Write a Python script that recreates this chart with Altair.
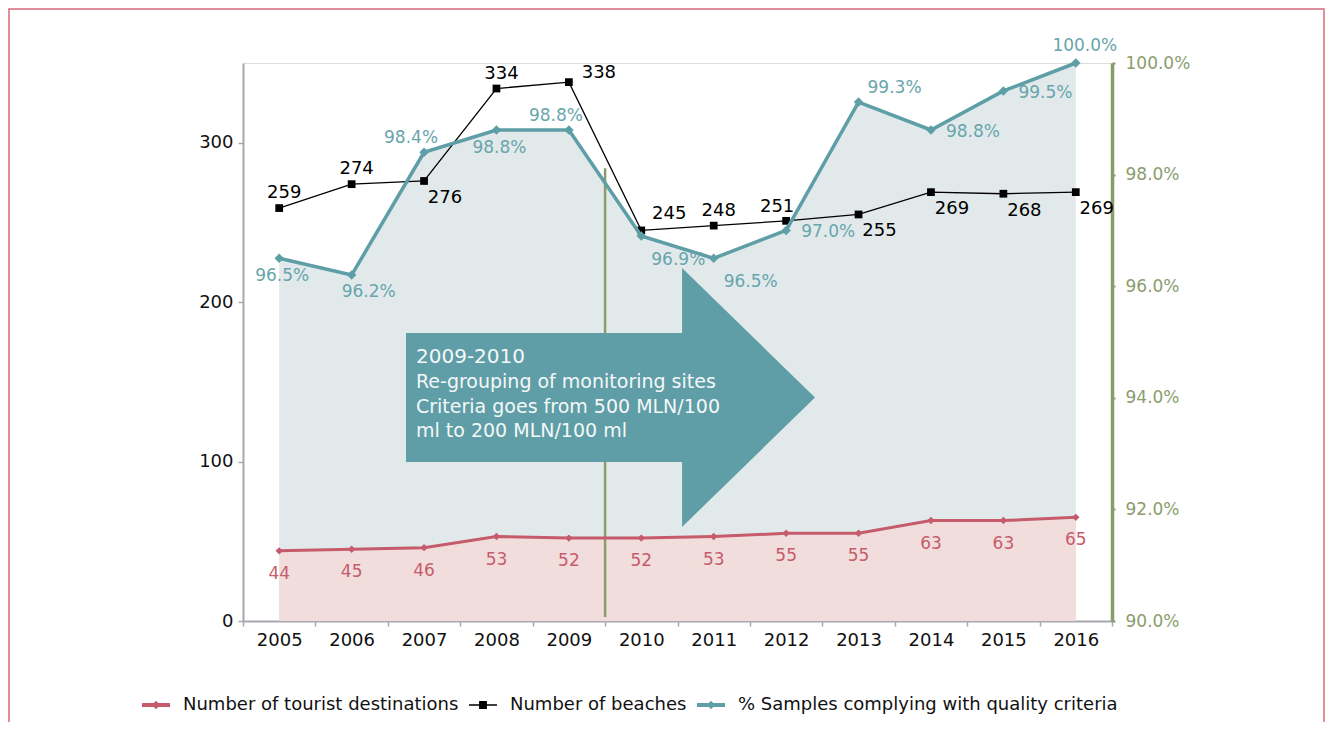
import altair as alt
import pandas as pd

# ---------------- data ----------------
years = ["2005", "2006", "2007", "2008", "2009", "2010",
         "2011", "2012", "2013", "2014", "2015", "2016"]
tourist = [44, 45, 46, 53, 52, 52, 53, 55, 55, 63, 63, 65]
beaches = [259, 274, 276, 334, 338, 245, 248, 251, 255, 269, 268, 269]
samples = [96.5, 96.2, 98.4, 98.8, 98.8, 96.9, 96.5, 97.0, 99.3, 98.8, 99.5, 100.0]

series_names = ["Number of tourist destinations", "Number of beaches",
                "% Samples complying with quality criteria"]
left_ticks = [0, 100, 200, 300]
right_ticks = [90, 92, 94, 96, 98, 100]
arrow_title = "2009-2010"
arrow_lines = ["Re-grouping of monitoring sites",
               "Criteria goes from 500 MLN/100",
               "ml to 200 MLN/100 ml"]
divider_year = ["2009"]

# label placement categories (annotation layout, not data)
beach_label_pos = ["above", "above", "below_right", "above", "right", "above_right",
                   "above", "above_left", "below_right", "below_right", "below_right", "below_right"]
sample_label_pos = ["below", "below_r", "above_left", "below", "above_left", "below_right",
                    "below_right", "right", "above_right", "right", "right", "above"]

beach_offsets = {"above": (5, -15), "above_left": (-9, -14), "above_right": (28, -16),
                 "right": (30, -9), "below_right": (21, 17)}
sample_offsets = {"below": (3, 18), "below_r": (17, 17), "above_left": (-13, -14),
                  "below_right": (37, 24), "right": (42, 2), "above_right": (36, -14),
                  "above": (9, -17)}

# ---------------- style ----------------
FONT = "DejaVu Sans"
W, H = 869, 558
RED = "#c65b6c"
RED_FILL = "#f2dddd"
TEAL = "#5e9ea6"
TEAL_TXT = "#68a5ac"
TEAL_FILL = "#e1e9eb"
GREEN = "#8a9c6a"
AXIS_GRAY = "#a8a8b0"
ARROW = "#5f9ea6"

ARROW_PATH = ("M-1,-0.315L0.35,-0.315L0.35,-0.633L1,0L0.35,0.633L0.35,0.315L-1,0.315Z")
legend_shapes = [
    "M-1,-0.14L1,-0.14L1,0.14L-1,0.14Z M0,-0.3L0.3,0L0,0.3L-0.3,0Z",
    "M-1,-0.05L1,-0.05L1,0.05L-1,0.05Z M-0.28,-0.28L0.28,-0.28L0.28,0.28L-0.28,0.28Z",
    "M-1,-0.14L1,-0.14L1,0.14L-1,0.14Z M0,-0.3L0.3,0L0,0.3L-0.3,0Z",
]
series_colors = [RED, "#000000", TEAL]

df = pd.DataFrame({
    "year": years, "tourist": tourist, "beaches": beaches, "samples": samples,
    "bpos": beach_label_pos, "spos": sample_label_pos,
})
base = alt.Chart(df)

x_scale = alt.Scale(type="band", paddingInner=0, paddingOuter=0)
x_axis = alt.Axis(title=None, labelAngle=0, tickBand="extent", domainColor=AXIS_GRAY,
                  domainWidth=2, tickColor=AXIS_GRAY, tickWidth=1.5, tickSize=5,
                  labelFont=FONT, labelFontSize=18, labelColor="#111111", labelPadding=5)


def xe(band=0.5):
    return alt.X("year:N", bandPosition=band, scale=x_scale, axis=x_axis, sort=years)


left_scale = alt.Scale(domain=[0, 350], nice=False, zero=True)
right_scale = alt.Scale(domain=[90, 100], nice=False, zero=False)

left_axis = alt.Axis(title=None, values=left_ticks, grid=False, domainColor=AXIS_GRAY,
                     domainWidth=2, tickColor=AXIS_GRAY, tickWidth=1.5, tickSize=5,
                     labelFont=FONT, labelFontSize=18, labelColor="#111111",
                     labelPadding=5, orient="left")
right_axis = alt.Axis(title=None, values=right_ticks, grid=False, domainColor=GREEN,
                      domainWidth=3.5, tickColor=GREEN, tickWidth=2, tickSize=3,
                      labelFont=FONT, labelFontSize=17, labelColor="#8c9c6c",
                      labelPadding=10, orient="right",
                      labelExpr="format(datum.value, '.1f') + '%'")


def ly(field):
    return alt.Y(field, scale=left_scale, axis=None)


def ry(field):
    return alt.Y(field, scale=right_scale, axis=None)


layers = []

# samples area (right axis)
layers.append(base.mark_area(color=TEAL_FILL, opacity=1).encode(
    x=xe(), y=alt.Y("samples:Q", scale=right_scale, axis=right_axis),
    y2=alt.Y2(datum=right_ticks[0])))

# tourist area (left axis)
layers.append(base.mark_area(color=RED_FILL, opacity=1).encode(
    x=xe(), y=alt.Y("tourist:Q", scale=left_scale, axis=left_axis)))

# green divider between 2009 and 2010
layers.append(base.transform_filter(alt.FieldOneOfPredicate(field="year", oneOf=divider_year))
              .mark_rule(color=GREEN, strokeWidth=2.5).encode(
    x=xe(1.0),
    y=alt.Y(datum=2.5, scale=left_scale, axis=None),
    y2=alt.Y2(datum=284)))

# arrow annotation
ann = alt.Chart(pd.DataFrame({"a": [0]}))
layers.append(ann.mark_point(shape=ARROW_PATH, filled=True, fill=ARROW, opacity=1,
                             strokeWidth=0, size=409 * 409).encode(
    x=alt.value(367.5), y=alt.value(334.5)))
layers.append(ann.mark_text(align="left", baseline="alphabetic", font=FONT, fontSize=20,
                            color="#f4f8f8").encode(
    x=alt.value(173), y=alt.value(300), text=alt.value(arrow_title)))
layers.append(ann.mark_text(align="left", baseline="alphabetic", font=FONT, fontSize=19,
                            lineHeight=24.5, color="#f4f8f8").encode(
    x=alt.value(173), y=alt.value(325), text=alt.value(arrow_lines)))

# beaches line
layers.append(base.mark_line(color="#000000", strokeWidth=1.3).encode(x=xe(), y=ly("beaches:Q")))
layers.append(base.mark_point(shape="square", filled=True, color="#000000", size=60,
                              opacity=1).encode(x=xe(), y=ly("beaches:Q")))

# tourist line
layers.append(base.mark_line(color=RED, strokeWidth=3).encode(x=xe(), y=ly("tourist:Q")))
layers.append(base.mark_point(shape="diamond", filled=True, color=RED, size=55,
                              opacity=1).encode(x=xe(), y=ly("tourist:Q")))

# samples line
layers.append(base.mark_line(color=TEAL, strokeWidth=3.5).encode(x=xe(), y=ry("samples:Q")))
layers.append(base.mark_point(shape="diamond", filled=True, color=TEAL, size=90,
                              opacity=1).encode(x=xe(), y=ry("samples:Q")))

# labels
layers.append(base.mark_text(font=FONT, fontSize=17, color=RED, dy=23,
                             baseline="middle").encode(
    x=xe(), y=ly("tourist:Q"), text=alt.Text("tourist:Q")))

for pos, (dx, dy) in beach_offsets.items():
    layers.append(base.transform_filter(alt.FieldEqualPredicate(field="bpos", equal=pos))
                  .mark_text(font=FONT, fontSize=18, color="#000000", dx=dx, dy=dy,
                             baseline="middle").encode(
        x=xe(), y=ly("beaches:Q"), text=alt.Text("beaches:Q")))

for pos, (dx, dy) in sample_offsets.items():
    layers.append(base.transform_filter(alt.FieldEqualPredicate(field="spos", equal=pos))
                  .transform_calculate(lab="format(datum.samples, '.1f') + '%'")
                  .mark_text(font=FONT, fontSize=17, color=TEAL_TXT, dx=dx, dy=dy,
                             baseline="middle").encode(
        x=xe(), y=ry("samples:Q"), text=alt.Text("lab:N")))

# legend (invisible carrier layer)
leg = alt.Legend(title=None, orient="none", direction="horizontal", legendX=-101,
                 legendY=628, labelFont=FONT, labelFontSize=18, labelColor="#111111",
                 labelOffset=13, columnPadding=10, symbolSize=784, symbolStrokeWidth=0,
                 symbolOpacity=1, padding=0, labelLimit=500)
layers.append(alt.Chart(pd.DataFrame({"series": series_names})).mark_point(
    filled=True, opacity=0).encode(
    color=alt.Color("series:N", scale=alt.Scale(domain=series_names, range=series_colors),
                    legend=leg, sort=series_names),
    shape=alt.Shape("series:N", scale=alt.Scale(domain=series_names, range=legend_shapes),
                    legend=leg, sort=series_names)))

# frame
layers.append(ann.mark_rect(fill=None, stroke="#d8697c", strokeWidth=1.5).encode(
    x=alt.value(-234), x2=alt.value(1081), y=alt.value(-54), y2=alt.value(800)))

chart = alt.layer(*layers).resolve_scale(y="independent").properties(
    width=W, height=H,
    autosize=alt.AutoSizeParams(type="none"),
    padding={"left": 235, "top": 55, "right": 213, "bottom": 101},
).configure_view(stroke=None).configure(background="white")

chart.save("out.html", embed_options={"renderer": "svg", "actions": False})
